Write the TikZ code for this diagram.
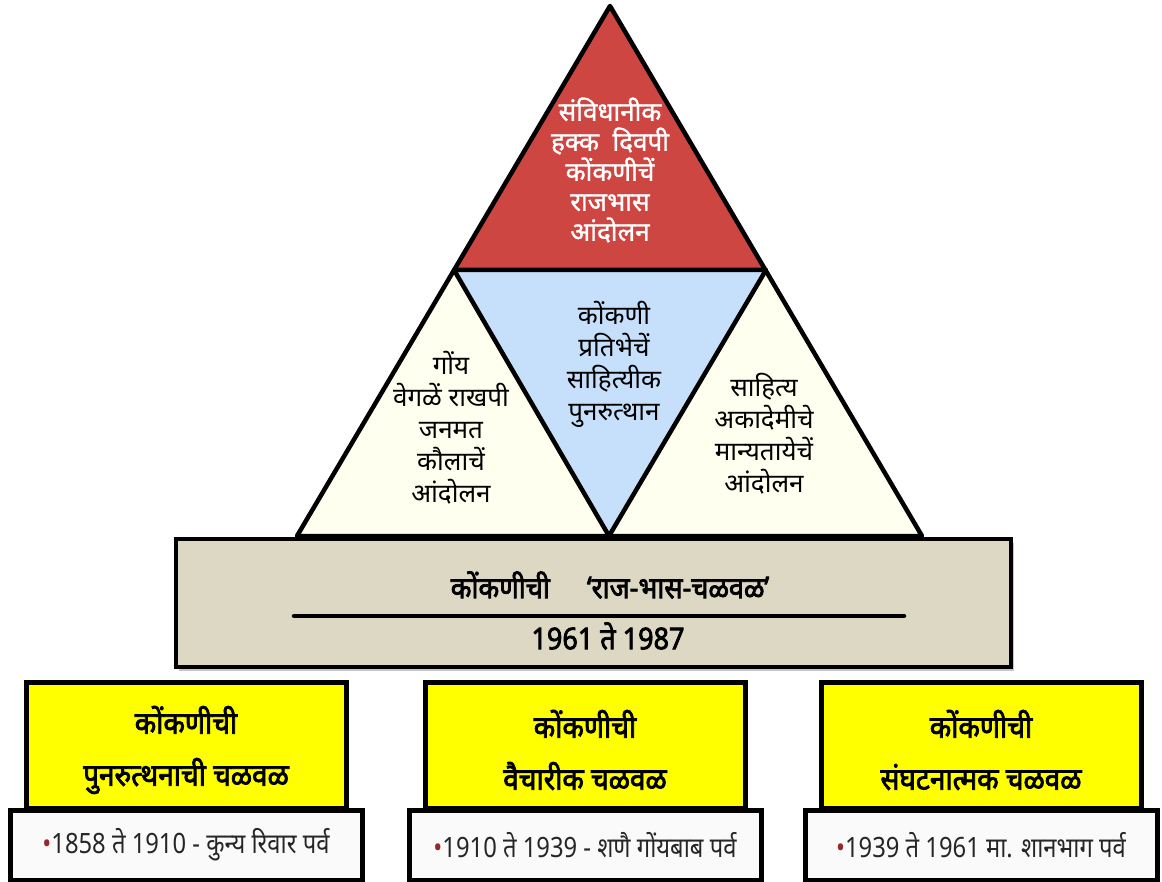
\documentclass[tikz,border=0pt]{standalone}
\usepackage{fontspec}
\setmainfont[Script=Devanagari]{Noto Sans}
\newfontfamily\devbold[Script=Devanagari, FakeBold=2.5, FakeStretch=0.9]{Noto Sans}
\newfontfamily\devsemi[Script=Devanagari, FakeBold=1.2]{Noto Sans}
\newfontfamily\devnarrow[Script=Devanagari, FakeStretch=0.85]{Noto Sans}
\usetikzlibrary{shadows}

\definecolor{peakred}{RGB}{206,70,66}
\definecolor{midblue}{RGB}{198,223,250}
\definecolor{sidecream}{RGB}{255,255,240}
\definecolor{basetan}{RGB}{221,216,196}
\definecolor{eraYellow}{RGB}{255,255,0}
\definecolor{eraWhite}{RGB}{250,250,250}
\definecolor{dotred}{RGB}{150,40,40}

\tikzset{
  tri/.style={line width=4.5pt, line join=round},
  trilabel/.style={align=center, font=\fontsize{26}{32}\selectfont, inner sep=0pt},
  basebox/.style={fill=basetan, draw=black, line width=4pt,
    drop shadow={shadow xshift=3pt, shadow yshift=-4pt, opacity=0.45}},
  erabox/.style={fill=eraYellow, draw=black, line width=5pt},
  datebox/.style={fill=eraWhite, draw=black, line width=5pt},
  eralabel/.style={align=center, font=\devbold\fontsize{31}{52}\selectfont, inner sep=0pt},
  datelabel/.style={font=\devnarrow\fontsize{28}{30}\selectfont, inner sep=0pt, text=black!85}
}

\begin{document}
\begin{tikzpicture}[x=1pt,y=-1pt]
\useasboundingbox (0,0) rectangle (1162,882);
% corners of the pyramid
\coordinate (apex) at (610,6);
\coordinate (tl) at (454,270);
\coordinate (tr) at (766,270);
\coordinate (bl) at (297,536);
\coordinate (bm) at (609,536);
\coordinate (br) at (922,536);
% faces
\fill [peakred] (apex) -- (tl) -- (tr) -- cycle;
\fill [sidecream] (tl) -- (bl) -- (bm) -- cycle;
\fill [sidecream] (tr) -- (bm) -- (br) -- cycle;
\fill [midblue] (tl) -- (tr) -- (bm) -- cycle;
\draw [tri] (apex) -- (bl) -- (br) -- cycle;
\draw [tri] (tl) -- (tr) -- (bm) -- cycle;
% face texts
\node [trilabel, text=white, font=\devsemi\fontsize{26}{30}\selectfont] (peak) at (610,170) {संविधानीक\\हक्क \ दिवपी\\कोंकणीचें\\राजभास\\आंदोलन};
\node [trilabel] (goy) at (451,428) {गोंय\\वेगळें राखपी\\जनमत\\कौलाचें\\आंदोलन};
\node [trilabel] (pratibha) at (614,364) {कोंकणी\\प्रतिभेचें\\साहित्यीक\\पुनरुत्थान};
\node [trilabel] (akademi) at (764,434) {साहित्य\\अकादेमीचे\\मान्यतायेचें\\आंदोलन};
% base
\draw [basebox] (176,539) rectangle (1011,667);
\node [font=\devbold\fontsize{30}{32}\selectfont] (rajbhas) at (610,585) {कोंकणीची \quad ‘राज-भास-चळवळ’};
\coordinate (rulel) at (294,616);
\coordinate (ruler) at (904,616);
\draw [line width=4.5pt, line cap=round] (rulel) -- (ruler);
\node [font=\devbold\fontsize{30}{32}\selectfont] (years) at (608,636) {1961 ते 1987};
% three movements
\foreach \name/\cx/\ytop/\txt/\dt in {
  punar/186/{कोंकणीची\\पुनरुत्थनाची चळवळ}/{1858 ते 1910 - कुन्य रिवार पर्व},
  vaichar/585/{कोंकणीची\\वैचारीक चळवळ}/{1910 ते 1939 - शणै गोंयबाब पर्व},
  sangh/981/{कोंकणीची\\संघटनात्मक चळवळ}/{1939 ते 1961 मा. शानभाग पर्व}}
{
  \draw [erabox] (\cx-160,682) rectangle (\cx+160,808);
  \draw [datebox] (\cx-176,810) rectangle (\cx+176,880);
  \node [eralabel] (\name) at (\cx,750) {\ytop};
  \node [datelabel] (\name-date) at (\cx,845) {\textcolor{dotred}{•}\txt};
}
\end{tikzpicture}
\end{document}
